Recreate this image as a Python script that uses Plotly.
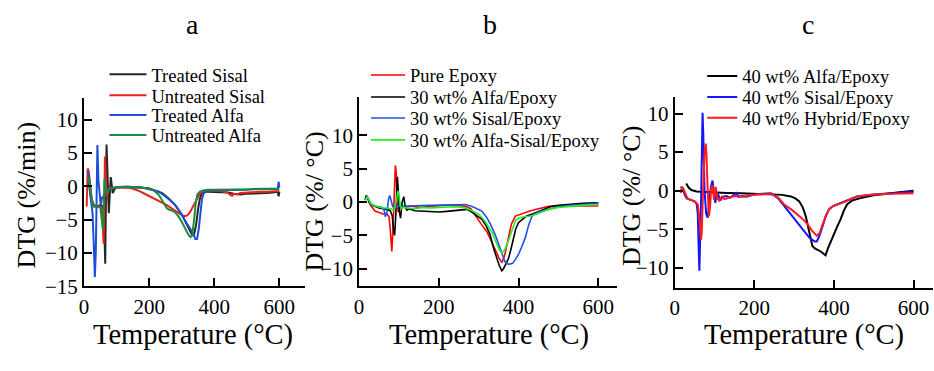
import plotly.graph_objects as go

W, H = 934, 371

# ---------------- Panel a data ----------------
a_ts_T = [12, 20, 30, 40, 50, 58, 62, 65, 69, 72, 76, 82, 88, 95, 100, 120, 150, 180, 200, 220, 240, 260, 280, 300, 315, 325, 332, 338, 344, 350, 356, 362, 370, 380, 400, 420, 440, 460, 480, 500, 520, 540, 560, 580, 595, 598, 600]
a_ts_v = [1.5, -1.5, -2.8, -3.0, -2.8, -3.0, -6.0, -11.6, 6.3, 1.0, -4.0, 1.4, -1.0, -0.3, -0.1, -0.1, -0.1, -0.2, -0.3, -0.6, -1.0, -1.8, -2.8, -4.2, -5.6, -6.6, -7.3, -7.2, -5.8, -3.5, -1.8, -1.0, -0.8, -0.8, -0.8, -0.8, -0.9, -1.1, -1.2, -1.1, -1.1, -1.0, -1.0, -0.9, -0.8, -1.5, -0.8]

a_us_T = [8, 11, 14, 18, 24, 30, 40, 50, 55, 58, 60, 62, 64, 66, 70, 75, 80, 90, 100, 120, 140, 150, 160, 170, 180, 190, 200, 210, 220, 230, 240, 250, 260, 270, 280, 290, 300, 310, 318, 325, 332, 340, 348, 355, 362, 370, 380, 400, 420, 440, 450, 455, 460, 470, 480, 500, 520, 540, 560, 580, 600]
a_us_v = [-3.0, 2.7, 2.4, 0.5, -2.3, -3.0, -3.0, -3.0, -3.5, -6.0, -8.6, -4.0, 4.5, 2.0, -1.5, -0.5, -0.2, -0.2, -0.2, -0.2, -0.2, -0.35, -0.5, -0.7, -0.95, -1.2, -1.4, -1.6, -1.85, -2.1, -2.4, -2.7, -3.0, -3.3, -3.7, -4.0, -4.3, -4.45, -4.3, -3.9, -3.3, -2.6, -1.8, -1.1, -0.8, -0.65, -0.6, -0.6, -0.7, -0.9, -1.3, -1.4, -1.1, -1.2, -1.0, -0.9, -0.9, -0.8, -0.8, -0.7, -0.7]

a_ta_T = [11, 15, 21, 26, 30, 33, 36, 39, 41, 44, 51, 56, 60, 64, 68, 72, 78, 85, 95, 110, 130, 150, 170, 190, 210, 230, 250, 270, 285, 300, 315, 325, 335, 342, 347, 352, 357, 362, 367, 375, 385, 400, 420, 450, 480, 500, 520, 550, 580, 595, 598, 600]
a_ta_v = [2.3, 1.8, -2.0, -4.0, -9.0, -13.6, -10.0, 1.0, 6.2, 1.0, -2.75, -1.6, -1.5, -1.0, -0.8, -0.5, -0.4, -0.3, -0.2, -0.1, 0.0, -0.1, -0.1, -0.3, -0.5, -0.8, -1.5, -2.3, -3.1, -4.2, -5.5, -6.2, -7.0, -7.9, -7.9, -6.5, -4.0, -2.0, -1.1, -0.7, -0.6, -0.6, -0.6, -0.5, -0.5, -0.5, -0.4, -0.4, -0.3, -0.3, 0.7, -0.2]

a_ua_T = [12, 15, 20, 25, 30, 40, 50, 55, 58, 61, 63, 66, 70, 75, 80, 90, 100, 120, 150, 180, 200, 215, 230, 245, 255, 262, 270, 280, 290, 300, 310, 320, 327, 332, 338, 343, 348, 355, 365, 380, 400, 430, 460, 500, 540, 580, 600]
a_ua_v = [0.5, 1.2, -0.5, -2.4, -3.0, -3.0, -3.2, -5.0, -6.5, -2.0, 1.2, -0.5, -1.0, -0.6, -0.3, -0.2, -0.1, -0.1, -0.1, -0.2, -0.3, -0.6, -1.3, -2.5, -3.3, -3.5, -3.6, -3.9, -4.5, -5.3, -6.3, -7.2, -7.6, -7.4, -5.0, -2.5, -1.2, -0.8, -0.6, -0.5, -0.5, -0.5, -0.5, -0.5, -0.4, -0.4, -0.4]

# ---------------- Panel b data ----------------
b_pe_T = [15, 20, 25, 30, 40, 50, 60, 70, 75, 78, 80, 82, 85, 88, 91, 93, 95, 98, 102, 108, 115, 130, 150, 170, 190, 210, 230, 250, 270, 280, 292, 305, 321, 332, 342, 350, 358, 365, 370, 375, 382, 392, 405, 417, 430, 450, 475, 500, 530, 560, 580, 600]
b_pe_v = [0.5, 0.7, 0.0, -0.6, -1.35, -1.6, -1.8, -1.8, -2.2, -4.0, -6.5, -7.4, -4.0, 1.0, 5.5, 4.5, 0.5, -1.5, -0.9, -0.7, -0.8, -0.6, -0.8, -0.7, -0.6, -0.5, -0.4, -0.5, -0.7, -1.0, -2.1, -3.2, -4.5, -5.8, -7.2, -8.3, -9.1, -8.0, -6.6, -5.0, -3.3, -2.1, -1.8, -1.6, -1.3, -1.0, -0.65, -0.6, -0.6, -0.6, -0.55, -0.6]

b_al_T = [15, 18, 22, 26, 30, 40, 50, 60, 70, 78, 83, 86, 89, 92, 94, 96, 98, 101, 104, 108, 112, 116, 120, 125, 140, 160, 180, 200, 220, 240, 260, 270, 280, 290, 300, 308, 318, 328, 337, 345, 352, 358, 362, 368, 375, 381, 387, 393, 400, 410, 420, 433, 450, 465, 483, 500, 530, 560, 590, 600]
b_al_v = [0.3, 1.0, 0.6, -0.1, -0.4, -0.7, -0.9, -1.0, -1.1, -1.3, -2.0, -4.0, -5.0, -2.0, 1.5, 3.8, 2.0, -1.5, -2.4, 0.0, 0.8, -0.8, -1.2, -1.0, -1.3, -1.4, -1.4, -1.5, -1.4, -1.3, -1.2, -1.1, -1.4, -1.8, -2.2, -2.6, -3.5, -4.8, -6.9, -8.4, -9.6, -10.3, -10.0, -9.3, -8.4, -7.0, -5.5, -4.0, -3.05, -2.5, -2.1, -1.84, -1.4, -1.0, -0.63, -0.5, -0.3, -0.2, -0.1, -0.15]

b_si_T = [15, 20, 25, 30, 40, 50, 58, 62, 66, 70, 74, 77, 80, 84, 88, 92, 100, 120, 150, 180, 210, 240, 267, 285, 300, 308, 320, 330, 342, 350, 358, 366, 375, 385, 392, 400, 408, 417, 425, 431, 437, 450, 475, 500, 530, 560, 590, 600]
b_si_v = [0.3, 0.8, 0.3, -0.3, -0.6, -0.7, -0.8, -1.0, -2.2, -1.5, 0.5, 1.0, 0.2, -0.6, -0.9, -0.8, -0.6, -0.6, -0.5, -0.5, -0.45, -0.4, -0.38, -0.7, -1.1, -1.36, -2.3, -3.4, -5.0, -6.3, -7.9, -9.0, -9.35, -9.2, -8.6, -7.8, -6.7, -5.3, -3.5, -2.5, -1.84, -1.5, -1.1, -0.7, -0.5, -0.35, -0.2, -0.2]

b_hy_T = [15, 20, 25, 30, 40, 50, 60, 70, 80, 86, 90, 94, 97, 100, 103, 106, 110, 120, 140, 160, 180, 200, 220, 240, 260, 280, 300, 315, 333, 345, 352, 358, 365, 375, 385, 392, 400, 415, 433, 450, 475, 500, 530, 560, 590, 600]
b_hy_v = [0.3, 0.8, 0.3, -0.3, -0.6, -0.8, -0.9, -0.9, -1.0, -1.2, -0.8, 0.2, 1.7, 1.0, -0.5, -1.0, -0.8, -0.9, -1.0, -0.8, -0.9, -0.8, -0.7, -0.7, -0.8, -1.2, -1.84, -2.8, -4.5, -6.2, -7.2, -7.65, -7.2, -5.7, -3.8, -2.8, -2.4, -2.2, -2.08, -1.7, -1.1, -0.8, -0.6, -0.5, -0.4, -0.38]

# ---------------- Panel c data ----------------
c_al_T = [29, 35, 42, 55, 67, 80, 100, 130, 167, 200, 240, 270, 292, 303, 313, 322, 329, 336, 342, 346, 352, 360, 367, 374, 379, 385, 392, 400, 408, 417, 425, 433, 445, 467, 500, 542, 570, 600]
c_al_v = [0.92, 0.4, 0.08, -0.1, -0.15, -0.2, -0.25, -0.3, -0.35, -0.4, -0.45, -0.55, -0.75, -1.0, -1.39, -2.2, -3.27, -5.0, -6.5, -7.2, -7.5, -7.7, -7.9, -8.2, -8.4, -7.5, -6.6, -5.8, -4.7, -3.7, -2.6, -1.8, -1.3, -0.97, -0.6, -0.34, -0.2, 0.0]

c_si_T = [15, 20, 25, 30, 40, 50, 55, 58, 60, 62, 66, 68, 70, 72, 75, 79, 83, 87, 91, 95, 99, 102, 106, 110, 115, 120, 130, 140, 150, 155, 160, 170, 180, 190, 200, 220, 242, 260, 275, 290, 300, 315, 329, 338, 346, 352, 357, 364, 371, 379, 388, 398, 408, 430, 458, 500, 550, 600]
c_si_v = [0.5, 0.3, -0.5, -1.0, -1.2, -1.4, -1.7, -3.0, -7.0, -10.4, -2.0, 5.0, 10.1, 7.0, 0.0, -3.0, -3.5, -1.5, 0.5, 1.3, -0.5, -1.6, -0.3, -0.6, -1.3, -0.8, -0.7, -0.9, -0.5, -0.3, -0.8, -0.7, -0.8, -0.6, -0.5, -0.4, -0.34, -1.0, -2.0, -3.0, -3.7, -4.7, -5.6, -6.1, -6.4, -6.6, -6.6, -5.8, -4.7, -3.4, -2.4, -2.0, -1.8, -1.3, -0.75, -0.5, -0.3, -0.13]

c_hy_T = [15, 18, 22, 27, 32, 40, 50, 58, 62, 66, 68, 70, 72, 75, 78, 80, 83, 86, 89, 92, 95, 99, 103, 107, 112, 118, 125, 135, 150, 170, 190, 210, 230, 242, 260, 275, 292, 308, 320, 333, 345, 357, 364, 371, 380, 388, 398, 408, 430, 458, 500, 550, 600]
c_hy_v = [-0.3, 0.5, 0.2, -0.5, -1.0, -1.2, -1.4, -1.8, -3.5, -6.4, -5.5, -2.0, 2.0, 5.0, 6.1, 4.5, 0.0, -3.3, -2.0, 0.5, 0.7, -1.2, 0.5, -1.0, -1.3, -0.8, -1.1, -0.9, -0.7, -0.8, -0.6, -0.5, -0.4, -0.4, -0.9, -1.8, -2.4, -3.07, -3.6, -4.3, -5.2, -5.87, -5.5, -4.5, -3.2, -2.4, -2.0, -1.8, -1.4, -0.75, -0.5, -0.4, -0.34]

x_ticks = [0, 200, 400, 600]
a_y_ticks = [-15, -10, -5, 0, 5, 10]
bc_y_ticks = [-10, -5, 0, 5, 10]

FONT = "Liberation Serif, Times New Roman, serif"


def px_x(p):
    return p / W


def px_y(p):
    return 1 - p / H


fig = go.Figure()
leg_layouts = {}
leg_count = [0]


def add(T, v, name, color, ax, width, leg_x, leg_y, itemwidth):
    xa = "x" if ax == 1 else f"x{ax}"
    ya = "y" if ax == 1 else f"y{ax}"
    leg_count[0] += 1
    lname = "legend" if leg_count[0] == 1 else f"legend{leg_count[0]}"
    fig.add_trace(go.Scatter(x=T, y=v, name=name, mode="lines",
                             line=dict(color=color, width=width),
                             xaxis=xa, yaxis=ya, legend=lname, showlegend=True))
    leg_layouts[lname] = dict(x=px_x(leg_x), y=px_y(leg_y), xanchor="left", yanchor="middle",
                              font=dict(family=FONT, size=18.5, color="black"),
                              bgcolor="rgba(0,0,0,0)", itemwidth=itemwidth, visible=True)


add(a_ts_T, a_ts_v, "Treated Sisal", "#262626", 1, 2, 100, 77.3, 37)
add(a_us_T, a_us_v, "Untreated Sisal", "#e8231e", 1, 2, 100, 99, 37)
add(a_ta_T, a_ta_v, "Treated Alfa", "#1c4fd8", 1, 2, 100, 119.3, 37)
add(a_ua_T, a_ua_v, "Untreated Alfa", "#1d8c3a", 1, 2, 100, 140, 37)

add(b_pe_T, b_pe_v, "Pure Epoxy", "#ff0000", 2, 1.6, 363, 78, 34)
add(b_al_T, b_al_v, "30 wt% Alfa/Epoxy", "#000000", 2, 1.6, 363, 100.7, 34)
add(b_si_T, b_si_v, "30 wt% Sisal/Epoxy", "#1f50e8", 2, 1.6, 363, 122.5, 34)
add(b_hy_T, b_hy_v, "30 wt% Alfa-Sisal/Epoxy", "#22ee22", 2, 1.6, 363, 145, 34)

add(c_al_T, c_al_v, "40 wt% Alfa/Epoxy", "#000000", 3, 2, 701, 79, 30)
add(c_si_T, c_si_v, "40 wt% Sisal/Epoxy", "#1414ff", 3, 2, 701, 100.7, 30)
add(c_hy_T, c_hy_v, "40 wt% Hybrid/Epoxy", "#ff1a1a", 3, 2, 701, 122.3, 30)

axis_common = dict(showline=True, linecolor="black", linewidth=2, ticks="inside",
                   ticklen=8, tickwidth=2, tickcolor="black", showgrid=False,
                   zeroline=False, mirror=False,
                   tickfont=dict(family=FONT, size=21, color="black"))

layout = dict(
    width=W, height=H, margin=dict(l=0, r=0, t=0, b=0),
    paper_bgcolor="white", plot_bgcolor="white", showlegend=True,
    font=dict(family=FONT, color="black"),
    xaxis=dict(domain=[px_x(79.5), px_x(302)], range=[0, 680], tickvals=x_ticks, anchor="y", **axis_common),
    yaxis=dict(domain=[px_y(296), px_y(101.7)], range=[-15, 13.2], tickvals=a_y_ticks, anchor="x", **axis_common),
    xaxis2=dict(domain=[px_x(356), px_x(615)], range=[0, 646], tickvals=x_ticks, anchor="y2", **axis_common),
    yaxis2=dict(domain=[px_y(296), px_y(100.7)], range=[-12.66, 15.7], tickvals=bc_y_ticks, anchor="x2", **axis_common),
    xaxis3=dict(domain=[px_x(673.3), px_x(933)], range=[0, 649], tickvals=x_ticks, anchor="y3", **axis_common),
    yaxis3=dict(domain=[px_y(297.3), px_y(100.7)], range=[-12.6, 12.1], tickvals=bc_y_ticks, anchor="x3", **axis_common),
)
layout.update(leg_layouts)
fig.update_layout(**layout)

annotations = []
for txt, xc in [("a", 189), ("b", 488), ("c", 807)]:
    annotations.append(dict(text=txt, x=px_x(xc), y=px_y(25), xref="paper", yref="paper",
                            showarrow=False, font=dict(family=FONT, size=28, color="black"),
                            xanchor="center", yanchor="middle"))
for xc in [189, 487, 803]:
    annotations.append(dict(text="Temperature (°C)", x=px_x(xc), y=px_y(346), xref="paper", yref="paper",
                            showarrow=False, font=dict(family=FONT, size=28.5, color="black"),
                            xanchor="center", yanchor="middle"))
for txt, xc, yc in [("DTG (%/min)", 22, 201), ("DTG (%/ °C)", 311, 208), ("DTG (%/ °C)", 630, 203)]:
    annotations.append(dict(text=txt, x=px_x(xc), y=px_y(yc), xref="paper", yref="paper",
                            showarrow=False, textangle=-90, font=dict(family=FONT, size=26, color="black"),
                            xanchor="center", yanchor="middle"))
fig.update_layout(annotations=annotations)

# Remove the browser's default 8 px body margin so the figure fills the window exactly.
fig.write_html("out.html", config={"displayModeBar": False},
               post_script="document.body.style.margin='0';document.body.style.overflow='hidden';")
